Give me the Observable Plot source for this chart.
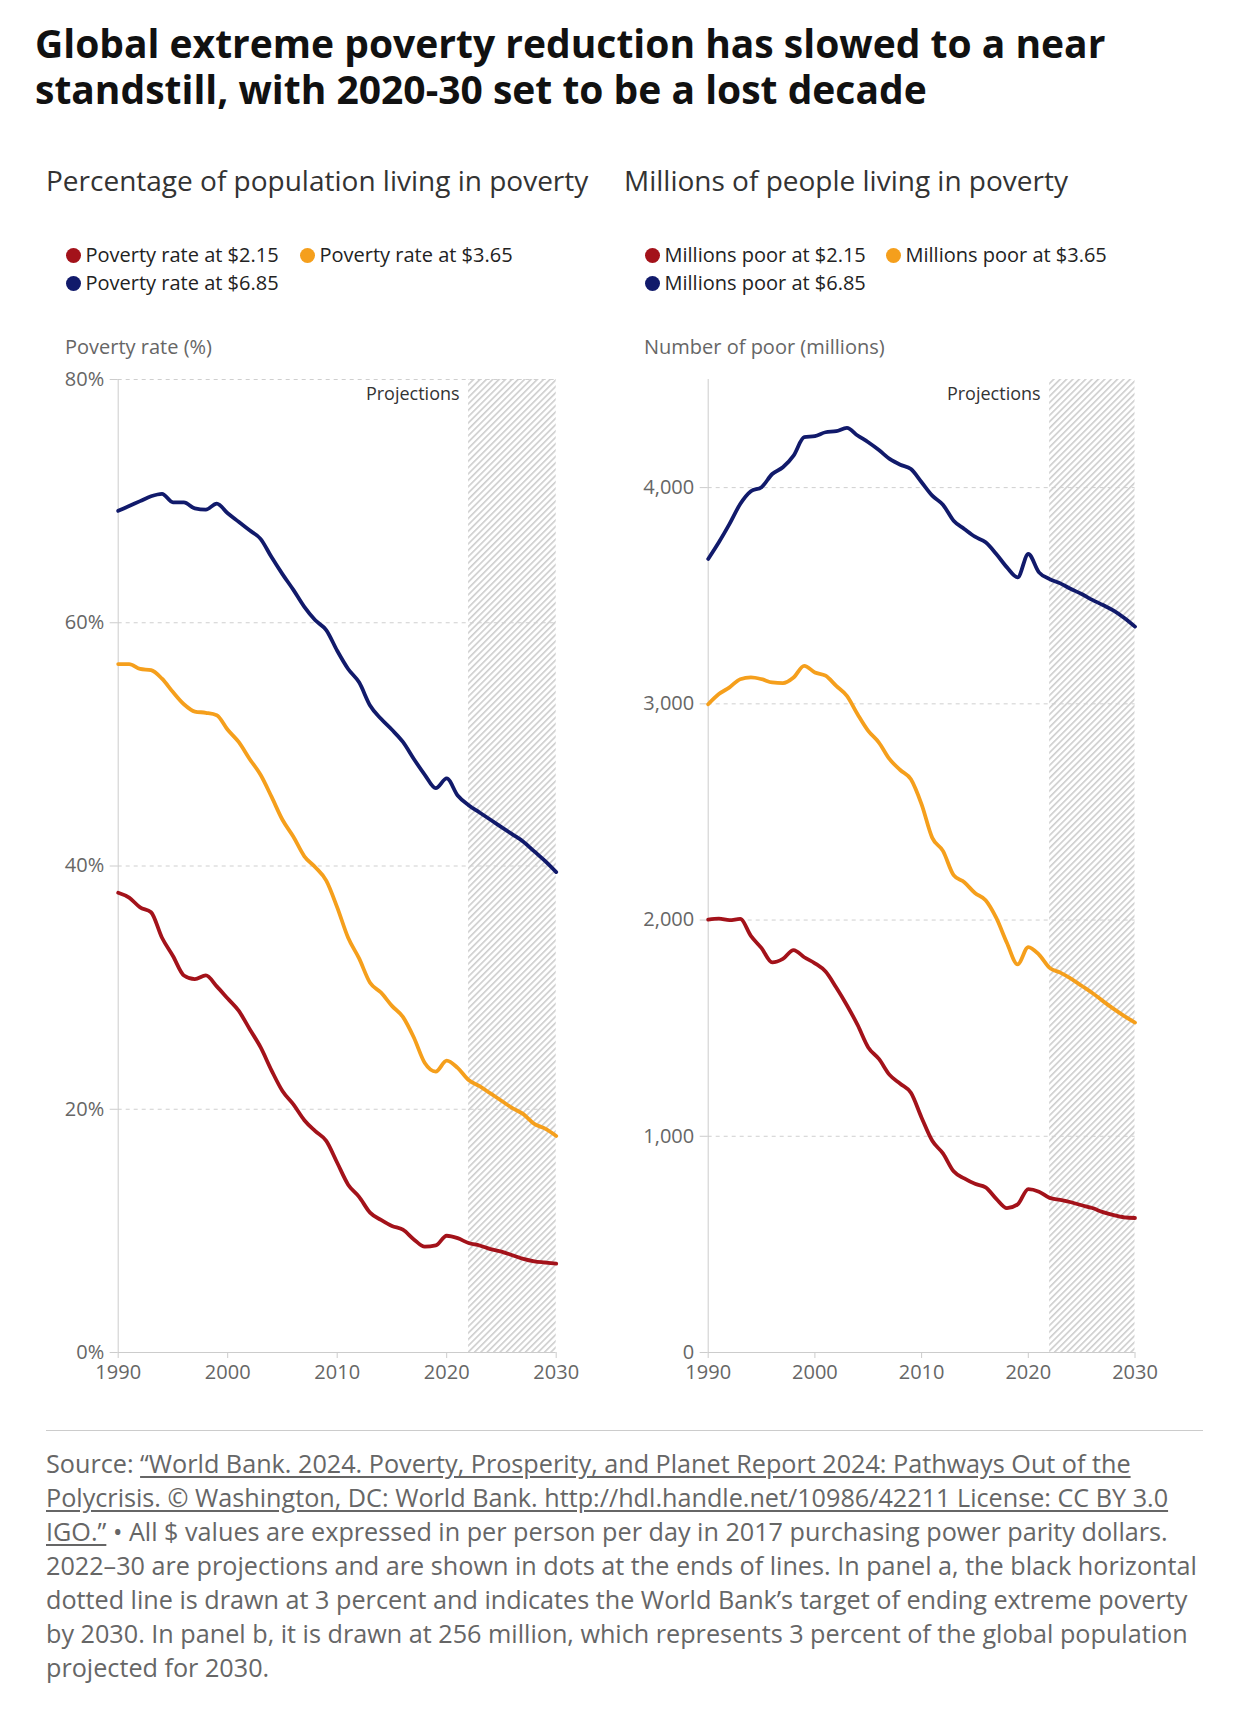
<!DOCTYPE html>
<html>
<head>
<meta charset="utf-8">
<script src="https://cdn.jsdelivr.net/npm/d3@7"></script>
<script src="https://cdn.jsdelivr.net/npm/@observablehq/plot@0.6"></script>
<style>
  html, body { margin: 0; padding: 0; background: #fff; }
  body { width: 1240px; height: 1712px; position: relative; font-family: "Open Sans", sans-serif; overflow: hidden; }
  .abs { position: absolute; white-space: nowrap; }
  .title { left: 35px; top: 20px; font-size: 39px; line-height: 46px; font-weight: 700; color: #111; }
  .sub { top: 163px; font-size: 28px; line-height: 34px; color: #333; }
  .legend { font-size: 20px; line-height: 28px; color: #222; }
  .legend .dot { position: absolute; width: 15px; height: 15px; border-radius: 50%; top: 6.5px; }
  .ylab { top: 335px; font-size: 20px; line-height: 24px; color: #666; }
  .rule { left: 46px; top: 1430px; width: 1157px; height: 0; border-top: 1px solid #ccc; }
  .foot { left: 46px; top: 1446px; font-size: 25.2px; line-height: 34px; color: #666; }
  .foot u { text-decoration: underline; text-underline-offset: 3px; }
</style>
</head>
<body>
<svg width="0" height="0" style="position:absolute">
  <defs>
    <pattern id="hatch" patternUnits="userSpaceOnUse" width="4.5" height="4.5" patternTransform="rotate(45)">
      <rect x="0" y="0" width="1.6" height="4.5" fill="#cdcdcd"></rect>
    </pattern>
  </defs>
</svg>
<div class="abs title">Global extreme poverty reduction has slowed to a near<br>standstill, with 2020-30 set to be a lost decade</div>
<div class="abs sub" style="left:46px">Percentage of population living in poverty</div>
<div class="abs sub" style="left:624px">Millions of people living in poverty</div>
<div id="legL"></div>
<div id="legR"></div>
<div class="abs ylab" style="left:65px">Poverty rate (%)</div>
<div class="abs ylab" style="left:644px">Number of poor (millions)</div>
<div id="plotL" class="abs" style="left:40px; top:360px"></div>
<div id="plotR" class="abs" style="left:620px; top:360px"></div>
<div class="abs rule"></div>
<div class="abs foot">Source: <u>“World Bank. 2024. Poverty, Prosperity, and Planet Report 2024: Pathways Out of the<br>Polycrisis. © Washington, DC: World Bank. http://hdl.handle.net/10986/42211 License: CC BY 3.0<br>IGO.”</u> • All $ values are expressed in per person per day in 2017 purchasing power parity dollars.<br>2022–30 are projections and are shown in dots at the ends of lines. In panel a, the black horizontal<br>dotted line is drawn at 3 percent and indicates the World Bank’s target of ending extreme poverty<br>by 2030. In panel b, it is drawn at 256 million, which represents 3 percent of the global population<br>projected for 2030.</div>
<script>
const years = [1990,1991,1992,1993,1994,1995,1996,1997,1998,1999,
  2000,2001,2002,2003,2004,2005,2006,2007,2008,2009,
  2010,2011,2012,2013,2014,2015,2016,2017,2018,2019,
  2020,2021,2022,2023,2024,2025,2026,2027,2028,2029,2030];

const rate215 = [37.8,37.4,36.6,36.2,34.1,32.6,31.0,30.7,31.0,30.1,
  29.1,28.1,26.6,25.1,23.2,21.5,20.4,19.1,18.2,17.4,
  15.6,13.8,12.8,11.5,10.9,10.4,10.1,9.3,8.7,8.8,
  9.6,9.4,9.0,8.8,8.5,8.3,8.0,7.7,7.5,7.4,7.3];
const rate365 = [56.6,56.6,56.2,56.1,55.4,54.3,53.3,52.7,52.6,52.4,
  51.2,50.2,48.8,47.5,45.7,43.8,42.4,40.8,39.9,38.8,
  36.6,34.1,32.4,30.4,29.6,28.5,27.6,25.9,23.8,23.1,
  24.0,23.4,22.4,21.9,21.3,20.7,20.1,19.6,18.8,18.4,17.8];
const rate685 = [69.2,69.6,70.0,70.4,70.6,69.9,69.9,69.4,69.3,69.8,
  69.0,68.3,67.6,66.9,65.4,64.0,62.7,61.3,60.2,59.4,
  57.7,56.2,55.1,53.2,52.1,51.2,50.2,48.8,47.5,46.4,
  47.2,45.8,45.0,44.4,43.8,43.2,42.6,42.0,41.2,40.4,39.5];

const poor215 = [2002,2007,2000,2005,1927,1870,1804,1820,1861,1828,
  1800,1762,1688,1606,1515,1411,1358,1284,1243,1201,
  1086,979,921,838,805,780,764,711,668,685,
  756,744,715,706,695,681,668,649,635,625,622];
const poor365 = [2998,3045,3076,3114,3122,3114,3099,3096,3122,3176,
  3145,3130,3083,3037,2952,2875,2821,2744,2694,2651,
  2535,2380,2320,2208,2175,2125,2092,2010,1894,1795,
  1875,1840,1779,1757,1729,1696,1663,1625,1589,1556,1526];
const poor685 = [3670,3747,3832,3924,3983,4002,4063,4094,4148,4233,
  4238,4256,4261,4276,4241,4210,4174,4133,4106,4086,
  4025,3963,3921,3847,3809,3773,3747,3693,3631,3585,
  3693,3608,3577,3557,3531,3508,3481,3457,3431,3397,3357];

const seriesLeft = ["Poverty rate at $2.15", "Poverty rate at $3.65", "Poverty rate at $6.85"];
const seriesRight = ["Millions poor at $2.15", "Millions poor at $3.65", "Millions poor at $6.85"];
const colors = ["#a3121a", "#f59f1c", "#111a6b"];

const xTicks = [1990, 2000, 2010, 2020, 2030];
const yTicksLeft = [0, 20, 40, 60, 80];
const yTicksRight = [0, 1000, 2000, 3000, 4000];
const projection = [{start: 2022, end: 2030, label: "Projections"}];

function toRows(names, arrays) {
  const rows = [];
  names.forEach((name, i) => years.forEach((yr, j) => rows.push({series: name, year: yr, value: arrays[i][j]})));
  return rows;
}

function legend(names, pos) {
  const div = document.createElement("div");
  const items = [
    {name: names[0], color: colors[0], x: pos[0], y: 241},
    {name: names[1], color: colors[1], x: pos[1], y: 241},
    {name: names[2], color: colors[2], x: pos[0], y: 269}
  ];
  for (const it of items) {
    const d = document.createElement("div");
    d.className = "abs legend";
    d.style.left = (it.x - 7.5) + "px";
    d.style.top = it.y + "px";
    d.innerHTML = `<span class="dot" style="left:0;background:${it.color}"></span><span style="padding-left:20px">${it.name}</span>`;
    div.appendChild(d);
  }
  return div;
}
document.getElementById("legL").appendChild(legend(seriesLeft, [73, 307]));
document.getElementById("legR").appendChild(legend(seriesRight, [652, 893]));

function panel(names, arrays, yDomain, yTicks, fmt, mLeft, mRight) {
  const rows = toRows(names, arrays);
  return Plot.plot({
    width: 540, height: 1040,
    marginLeft: mLeft, marginRight: mRight, marginTop: 19, marginBottom: 48,
    style: {fontFamily: "Open Sans", fontSize: "20px", background: "transparent", overflow: "visible"},
    x: {domain: [1990, 2030], axis: null},
    y: {domain: yDomain, axis: null},
    color: {domain: names, range: colors},
    marks: [
      Plot.rect(projection, {x1: "start", x2: "end", y1: yDomain[0], y2: yDomain[1], fill: "url(#hatch)"}),
      Plot.ruleY(yTicks.filter(d => d > 0), {stroke: "#cfcfcf", strokeDasharray: "4,4", strokeWidth: 1}),
      Plot.ruleX([1990], {stroke: "#cccccc", strokeWidth: 1}),
      Plot.ruleY([0], {stroke: "#cccccc", strokeWidth: 1}),
      Plot.axisY(yTicks, {tickFormat: fmt, tickSize: 8, tickPadding: 6, stroke: "#cccccc", fill: "#666", fontSize: 20, label: null}),
      Plot.axisX(xTicks, {tickFormat: d => String(d), tickSize: 6, tickPadding: 6, stroke: "#cccccc", fill: "#666", fontSize: 20, label: null}),
      Plot.text(projection, {x: "start", y: yDomain[1], text: "label", textAnchor: "end", dx: -9, dy: 15, fill: "#333", fontSize: 18}),
      Plot.line(rows, {x: "year", y: "value", z: "series", stroke: "series", strokeWidth: 3.8, curve: "monotone-x"})
    ]
  });
}

document.getElementById("plotL").appendChild(panel(seriesLeft, [rate215, rate365, rate685], [0, 80], yTicksLeft, d => d + "%", 77.7, 24.3));
document.getElementById("plotR").appendChild(panel(seriesRight, [poor215, poor365, poor685], [0, 4500], yTicksRight, d3.format(","), 87.7, 25.5));
</script>
</body>
</html>
